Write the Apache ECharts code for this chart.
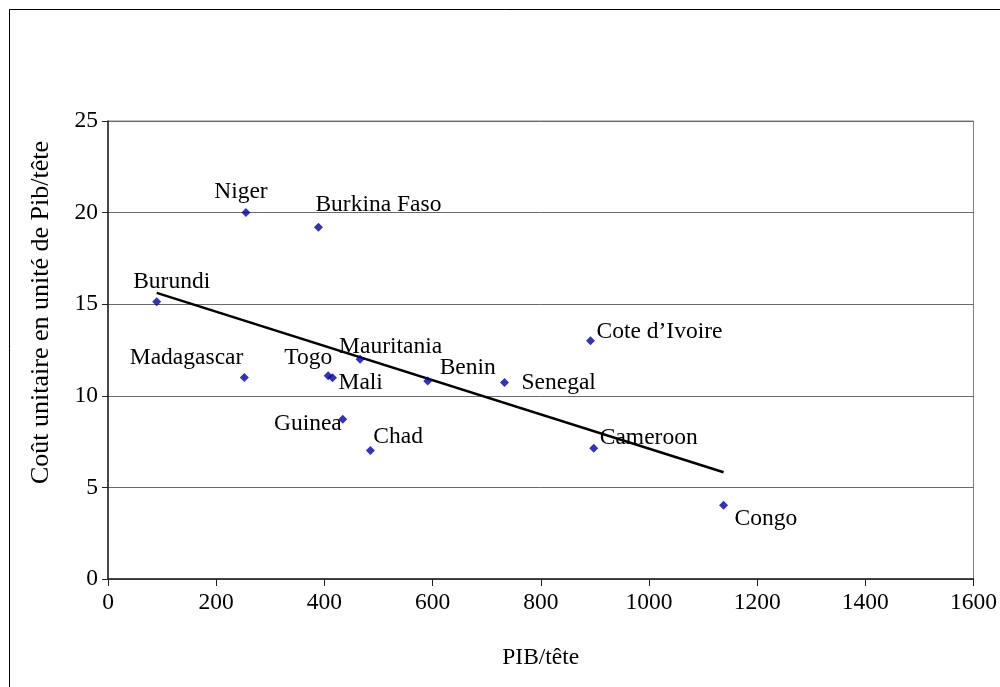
<!DOCTYPE html>
<html>
<head>
<meta charset="utf-8">
<script src="https://cdn.jsdelivr.net/npm/echarts@6/dist/echarts.min.js"></script>
<style>
html,body{margin:0;padding:0;background:#fff;}
#chart{width:1000px;height:687px;}
</style>
</head>
<body>
<div id="chart"></div>
<script>
// ---- data ----
const countries = ['Niger','Burkina Faso','Burundi','Madagascar','Togo','Mali','Mauritania','Guinea','Chad','Benin','Senegal','Cote d\u2019Ivoire','Cameroon','Congo'];
const pibParTete = [255, 389, 90, 252, 407, 415, 466, 434, 485, 591, 733, 892, 898, 1138];
const coutUnitaire = [20.0, 19.2, 15.13, 11.0, 11.1, 10.98, 12.0, 8.72, 7.01, 10.81, 10.72, 13.01, 7.14, 4.02];
const trendX = [90, 1138];
const trendY = [15.62, 5.83];
const xTicks = [0, 200, 400, 600, 800, 1000, 1200, 1400, 1600];
const yTicks = [0, 5, 10, 15, 20, 25];
const xTitle = 'PIB/tête';
const yTitle = 'Coût unitaire en unité de Pib/tête';

// ---- label placement (style only): [align, dx, dy] ----
const labelPlace = {
  'Niger': ['center', -5, -21],
  'Burkina Faso': ['left', -3, -22],
  'Burundi': ['center', 15, -20],
  'Madagascar': ['right', -1, -20],
  'Togo': ['right', 4, -18],
  'Mali': ['left', 6, 5],
  'Mauritania': ['left', -21, -12],
  'Guinea': ['right', -1, 5],
  'Chad': ['left', 3, -14],
  'Benin': ['left', 12, -13],
  'Senegal': ['left', 17, 0],
  'Cote d\u2019Ivoire': ['left', 6, -9],
  'Cameroon': ['left', 6, -10],
  'Congo': ['left', 11, 13]
};

const FONT = "'Liberation Serif','Times New Roman',serif";
const FS = 23.5;

const scatterData = countries.map((c, i) => {
  const p = labelPlace[c];
  return {
    name: c,
    value: [pibParTete[i], coutUnitaire[i]],
    label: {
      align: p[0],
      offset: [p[1], p[2]]
    }
  };
});

const chart = echarts.init(document.getElementById('chart'), null, {renderer: 'canvas'});
chart.setOption({
  animation: false,
  backgroundColor: '#fff',
  grid: {
    left: 108, right: 26, top: 121, bottom: 108,
    show: true, borderColor: '#808080', borderWidth: 1, backgroundColor: 'transparent'
  },
  xAxis: {
    type: 'value',
    min: xTicks[0], max: xTicks[xTicks.length - 1], interval: xTicks[1] - xTicks[0],
    name: xTitle, nameLocation: 'middle', nameGap: 79,
    nameTextStyle: {fontFamily: FONT, fontSize: FS, color: '#000', verticalAlign: 'middle'},
    axisLine: {show: true, onZero: false, lineStyle: {color: '#222', width: 1.5}},
    axisTick: {show: true, inside: false, length: 7, lineStyle: {color: '#222', width: 1}},
    axisLabel: {margin: 24, fontFamily: FONT, fontSize: FS, color: '#000', verticalAlign: 'middle',
      formatter: v => String(v)},
    splitLine: {show: false}
  },
  yAxis: {
    type: 'value',
    min: yTicks[0], max: yTicks[yTicks.length - 1], interval: yTicks[1] - yTicks[0],
    axisLine: {show: true, onZero: false, lineStyle: {color: '#222', width: 1.5}},
    axisTick: {show: true, inside: false, length: 6, lineStyle: {color: '#222', width: 1}},
    axisLabel: {margin: 10, fontFamily: FONT, fontSize: FS, color: '#000', formatter: v => String(v)},
    splitLine: {show: true, lineStyle: {color: '#6a6a6a', width: 1}}
  },
  graphic: [
    {
      type: 'rect', silent: true, z: 100,
      shape: {x: 9.5, y: 9.5, width: 1000, height: 700},
      style: {fill: 'none', stroke: '#000', lineWidth: 1}
    },
    {
      type: 'text', silent: true,
      x: 41, y: 312.5, rotation: Math.PI / 2,
      style: {text: yTitle, fontFamily: FONT, fontSize: 26, fill: '#000', align: 'center', verticalAlign: 'middle'}
    }
  ],
  series: [
    {
      type: 'line',
      data: trendX.map((x, i) => [x, trendY[i]]),
      symbol: 'none',
      lineStyle: {color: '#000', width: 2.5},
      z: 2,
      silent: true
    },
    {
      type: 'scatter',
      symbol: 'diamond',
      symbolSize: 9,
      itemStyle: {color: '#0000A0'},
      label: {
        show: true,
        position: 'inside',
        verticalAlign: 'middle',
        formatter: p => p.name,
        color: '#000',
        opacity: 1,
        textBorderWidth: 0,
        fontFamily: FONT,
        fontSize: FS
      },
      data: scatterData,
      z: 3
    }
  ]
});
</script>
</body>
</html>
